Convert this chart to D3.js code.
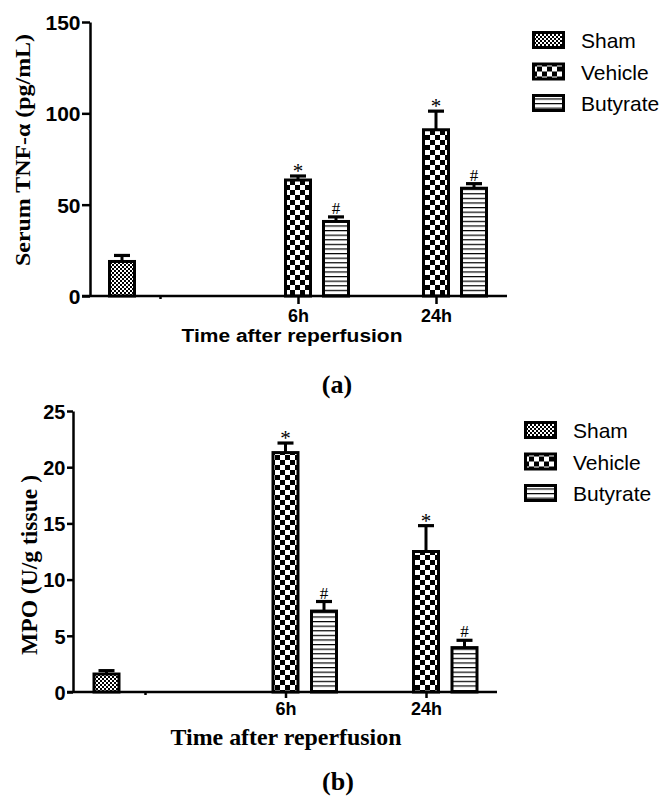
<!DOCTYPE html>
<html>
<head>
<meta charset="utf-8">
<script src="https://cdn.jsdelivr.net/npm/d3@7"></script>
<style>
  body { margin: 0; background: #fff; }
  svg { display: block; }
</style>
</head>
<body>
<svg></svg>
<script>
// groups on the x axis and the three treatment series
const groups = ["0h", "6h", "24h"];
const groupLabels = ["", "6h", "24h"];
const series = ["Sham", "Vehicle", "Butyrate"];

// one entry per bar
const barGroup = ["0h", "6h", "6h", "24h", "24h"];
const barSeries = ["Sham", "Vehicle", "Butyrate", "Vehicle", "Butyrate"];
const barMarks = ["", "*", "#", "*", "#"];

// (a) serum TNF-alpha
const tnfMean = [18.9, 63.5, 40.8, 91, 59];
const tnfSem = [3.3, 2.2, 2.5, 10.2, 2.5];
const tnfTicks = [0, 50, 100, 150];

// (b) MPO
const mpoMean = [1.6, 21.3, 7.2, 12.5, 3.95];
const mpoSem = [0.3, 0.85, 0.85, 2.3, 0.65];
const mpoTicks = [0, 5, 10, 15, 20, 25];

const W = 667, H = 798;
const sans = "'Liberation Sans', Arial, sans-serif";
const serif = "'Liberation Serif', 'Times New Roman', serif";

const svg = d3.select("svg")
    .attr("width", W)
    .attr("height", H);

// fill patterns
const defs = svg.append("defs");
const patSham = defs.append("pattern").attr("id", "pSham")
    .attr("patternUnits", "userSpaceOnUse").attr("width", 4).attr("height", 4);
patSham.append("rect").attr("width", 4).attr("height", 4).attr("fill", "#fff");
patSham.append("rect").attr("width", 2).attr("height", 2).attr("fill", "#000");
patSham.append("rect").attr("x", 2).attr("y", 2).attr("width", 2).attr("height", 2).attr("fill", "#000");

const patVeh = defs.append("pattern").attr("id", "pVehicle")
    .attr("patternUnits", "userSpaceOnUse").attr("width", 10).attr("height", 10);
patVeh.append("rect").attr("width", 10).attr("height", 10).attr("fill", "#fff");
patVeh.append("rect").attr("width", 5).attr("height", 5).attr("fill", "#000");
patVeh.append("rect").attr("x", 5).attr("y", 5).attr("width", 5).attr("height", 5).attr("fill", "#000");

const patBut = defs.append("pattern").attr("id", "pButyrate")
    .attr("patternUnits", "userSpaceOnUse").attr("width", 6).attr("height", 4.6);
patBut.append("rect").attr("width", 6).attr("height", 4.6).attr("fill", "#fff");
patBut.append("rect").attr("width", 6).attr("height", 1.2).attr("fill", "#000");

const fills = { Sham: "url(#pSham)", Vehicle: "url(#pVehicle)", Butyrate: "url(#pButyrate)" };

const panels = [
    {
        mean: tnfMean, sem: tnfSem, ticks: tnfTicks, yMax: 150,
        axisX: 90, top: 22, base: 296, right: 507,
        g0: 160, g1: 436, slot: 38, tickLen: 8, tickFont: 21,
        xLabelBase: 322,
        yTitle: "Serum TNF-\u03b1 (pg/mL)", yTitleX: 30, yTitleY: 150, yTitleLen: 232, yTitleSize: 21,
        xTitle: "Time after reperfusion", xTitleFont: sans, xTitleSize: 18,
        xTitleX: 292, xTitleY: 342, xTitleLen: 221,
        tag: "(a)", tagX: 337, tagY: 393,
        legX: 532, legY: 40, legTextX: 581
    },
    {
        mean: mpoMean, sem: mpoSem, ticks: mpoTicks, yMax: 25,
        axisX: 73, top: 411, base: 692, right: 497,
        g0: 145, g1: 426, slot: 38.5, tickLen: 6, tickFont: 20,
        xLabelBase: 715,
        yTitle: "MPO (U/g tissue )", yTitleX: 37, yTitleY: 565, yTitleLen: 180, yTitleSize: 23,
        xTitle: "Time after reperfusion", xTitleFont: serif, xTitleSize: 23,
        xTitleX: 286, xTitleY: 745, xTitleLen: 231,
        tag: "(b)", tagX: 338, tagY: 790,
        legX: 524, legY: 430, legTextX: 573
    }
];

panels.forEach(p => {
    const g = svg.append("g");

    const y = d3.scaleLinear().domain([0, p.yMax]).range([p.base, p.top]);
    const x = d3.scalePoint().domain(groups).range([p.g0, p.g1]);
    const pi = 1 - 25 / p.slot;
    const xs = d3.scaleBand().domain(series)
        .range([-1.5 * p.slot, 1.5 * p.slot])
        .paddingInner(pi).paddingOuter(pi / 2);

    const bars = p.mean.map((m, i) => ({
        group: barGroup[i], series: barSeries[i], mean: m, sem: p.sem[i], mark: barMarks[i]
    }));
    const cx = d => x(d.group) + xs(d.series) + xs.bandwidth() / 2;

    // error bars (upper only)
    g.selectAll(".err").data(bars).join("line")
        .attr("x1", cx).attr("x2", cx)
        .attr("y1", d => y(d.mean)).attr("y2", d => y(d.mean + d.sem))
        .attr("stroke", "#000").attr("stroke-width", 3);
    g.selectAll(".cap").data(bars).join("line")
        .attr("x1", d => cx(d) - 8).attr("x2", d => cx(d) + 8)
        .attr("y1", d => y(d.mean + d.sem)).attr("y2", d => y(d.mean + d.sem))
        .attr("stroke", "#000").attr("stroke-width", 3.2);

    g.selectAll(".bar").data(bars).join("rect")
        .attr("x", d => x(d.group) + xs(d.series))
        .attr("y", d => y(d.mean))
        .attr("width", xs.bandwidth())
        .attr("height", d => y(0) - y(d.mean))
        .attr("fill", d => fills[d.series])
        .attr("stroke", "#000").attr("stroke-width", 3);

    g.selectAll(".mark").data(bars.filter(d => d.mark)).join("text")
        .attr("x", cx)
        .attr("y", d => y(d.mean + d.sem) + (d.mark === "*" ? 2 : -3))
        .attr("text-anchor", "middle")
        .attr("fill", "#000")
        .attr("font-family", serif)
        .attr("font-size", d => d.mark === "*" ? 21 : 17)
        .text(d => d.mark);

    // y axis
    const yAxis = g.append("g")
        .attr("transform", `translate(${p.axisX},0)`)
        .call(d3.axisLeft(y).tickValues(p.ticks).tickSize(p.tickLen).tickSizeOuter(0).tickPadding(1.5));
    yAxis.select(".domain").attr("stroke-width", 2.5);
    yAxis.selectAll(".tick line").attr("stroke-width", 2.5);
    yAxis.selectAll(".tick text")
        .attr("font-family", sans).attr("font-weight", "bold").attr("font-size", p.tickFont)
        .attr("dy", "0.36em").attr("fill", "#000");

    // x axis
    const xAxis = g.append("g")
        .attr("transform", `translate(0,${p.base})`)
        .call(d3.axisBottom(x).tickSize(p.tickLen).tickSizeOuter(0).tickFormat((d, i) => groupLabels[i]));
    xAxis.select(".domain").remove();
    xAxis.append("line")
        .attr("x1", p.axisX - p.tickLen).attr("x2", p.right)
        .attr("stroke", "#000").attr("stroke-width", 2.5);
    xAxis.selectAll(".tick line").attr("stroke-width", 2.5)
        .attr("y2", (d, i) => i === 0 ? 3 : p.tickLen);
    xAxis.selectAll(".tick text")
        .attr("font-family", sans).attr("font-weight", "bold").attr("font-size", 18)
        .attr("y", p.xLabelBase - p.base).attr("dy", 0).attr("fill", "#000");

    // axis titles
    g.append("text")
        .attr("transform", `translate(${p.yTitleX},${p.yTitleY}) rotate(-90)`)
        .attr("text-anchor", "middle")
        .attr("font-family", serif).attr("font-weight", "bold").attr("font-size", p.yTitleSize)
        .attr("textLength", p.yTitleLen).attr("lengthAdjust", "spacingAndGlyphs")
        .text(p.yTitle);

    g.append("text")
        .attr("x", p.xTitleX).attr("y", p.xTitleY)
        .attr("text-anchor", "middle")
        .attr("font-family", p.xTitleFont).attr("font-weight", "bold").attr("font-size", p.xTitleSize)
        .attr("textLength", p.xTitleLen).attr("lengthAdjust", "spacingAndGlyphs")
        .text(p.xTitle);

    g.append("text")
        .attr("x", p.tagX).attr("y", p.tagY)
        .attr("text-anchor", "middle")
        .attr("font-family", serif).attr("font-weight", "bold").attr("font-size", 26)
        .text(p.tag);

    // legend
    const leg = g.selectAll(".leg").data(series).join("g")
        .attr("transform", (d, i) => `translate(${p.legX},${p.legY + i * 31.5})`);
    leg.append("rect")
        .attr("x", 1.5).attr("y", -7.5)
        .attr("width", 30).attr("height", 15)
        .attr("fill", d => fills[d])
        .attr("stroke", "#000").attr("stroke-width", 3);
    leg.append("text")
        .attr("x", p.legTextX - p.legX).attr("y", 8)
        .attr("font-family", sans).attr("font-size", 21)
        .text(d => d);
});
</script>
</body>
</html>
